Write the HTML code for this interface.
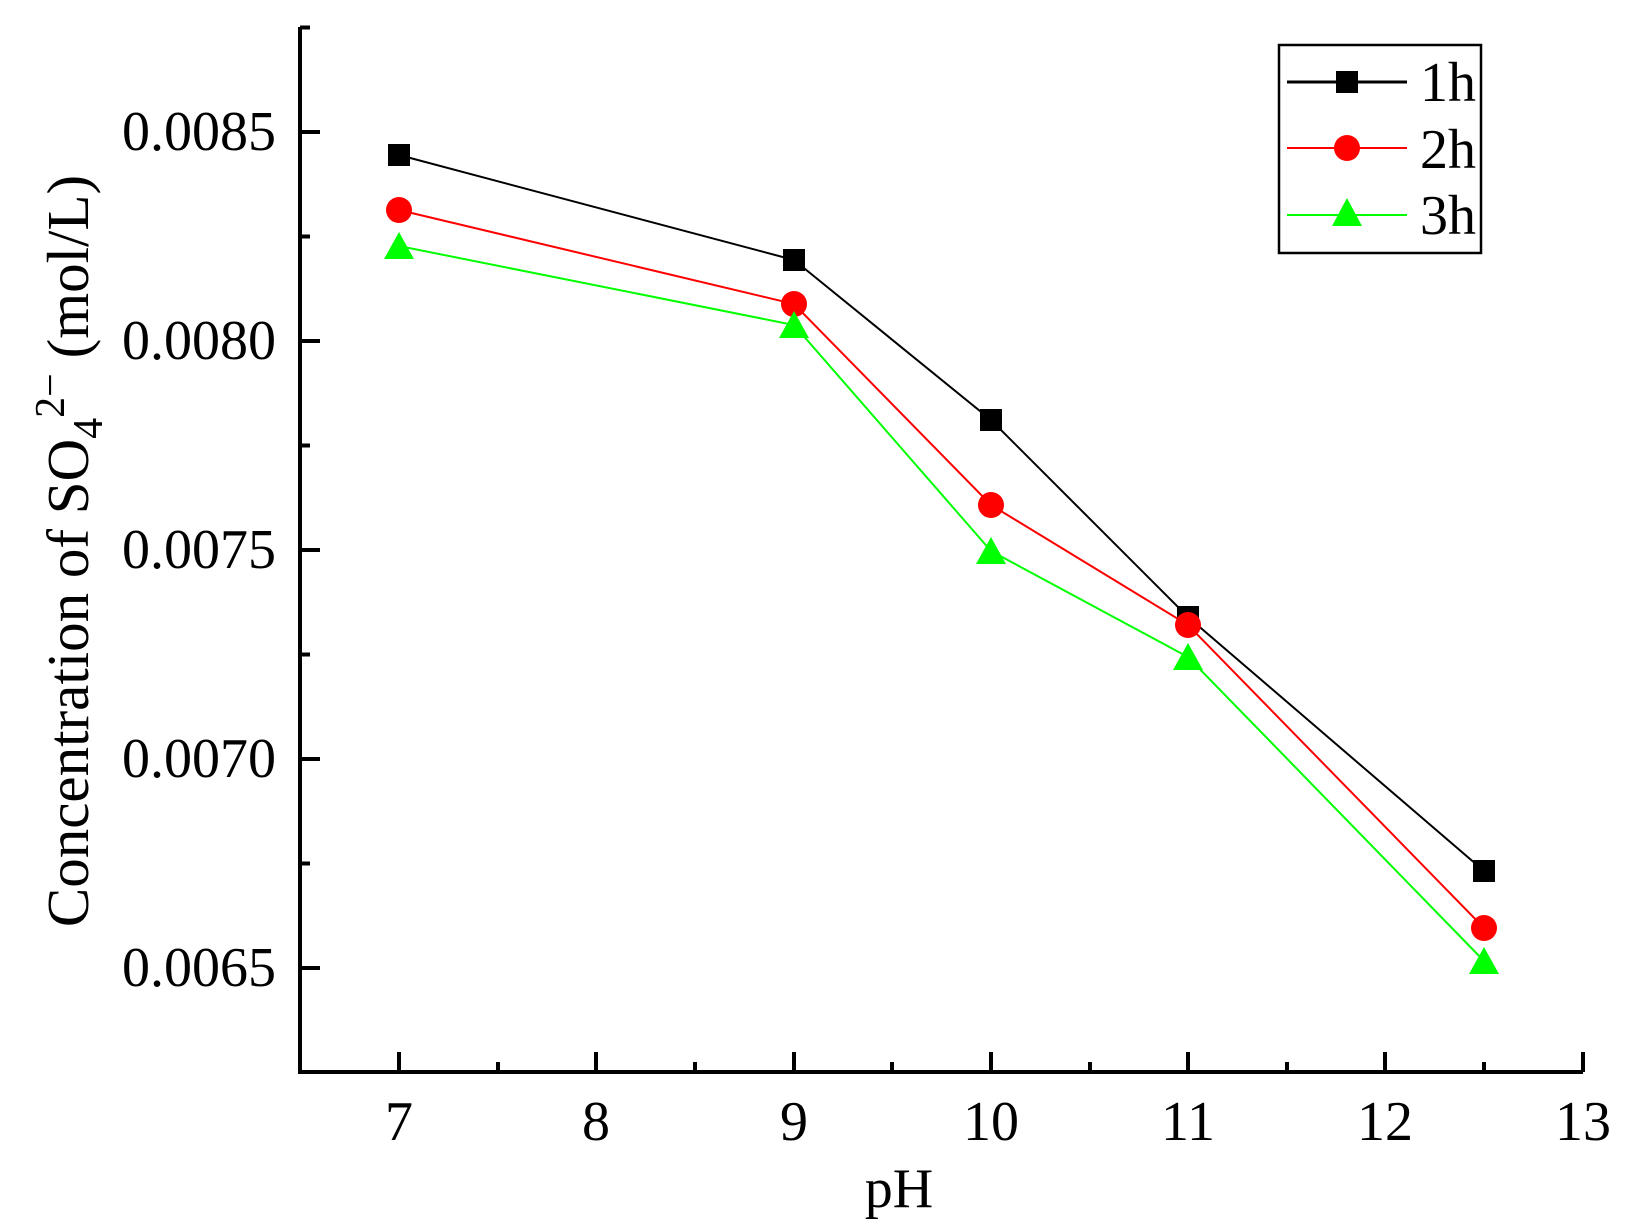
<!DOCTYPE html>
<html><head><style>body{margin:0;background:#fff}svg{display:block}</style></head><body>
<svg width="1630" height="1228" xmlns="http://www.w3.org/2000/svg" font-family="Liberation Serif, serif">
<rect width="1630" height="1228" fill="#fff"/>
<g stroke="#000" stroke-width="4" fill="none">
<path d="M300,27 V1072 H1583"/>
<path d="M300,132 h20 M300,341 h20 M300,550 h20 M300,759 h20 M300,968 h20"/>
<path d="M300,27.5 h10 M300,236.5 h10 M300,445.5 h10 M300,654.5 h10 M300,863.5 h10"/>
<path d="M399,1072 v-20 M596,1072 v-20 M794,1072 v-20 M991,1072 v-20 M1188,1072 v-20 M1385,1072 v-20 M1583,1072 v-20"/>
<path d="M498,1072 v-10 M695,1072 v-10 M892,1072 v-10 M1090,1072 v-10 M1287,1072 v-10 M1484,1072 v-10"/>
</g>
<g font-size="56" text-anchor="end" fill="#000">
<text x="276" y="150">0.0085</text>
<text x="276" y="359">0.0080</text>
<text x="276" y="568">0.0075</text>
<text x="276" y="777">0.0070</text>
<text x="276" y="986">0.0065</text>
</g>
<g font-size="56" text-anchor="middle" fill="#000">
<text x="399" y="1140">7</text>
<text x="596" y="1140">8</text>
<text x="794" y="1140">9</text>
<text x="991" y="1140">10</text>
<text x="1188" y="1140">11</text>
<text x="1385" y="1140">12</text>
<text x="1583" y="1140">13</text>
<text x="899" y="1207">pH</text>
</g>
<text transform="translate(88,551) rotate(-90)" font-size="59" text-anchor="middle" fill="#000">Concentration of SO<tspan font-size="42" dy="14">4</tspan><tspan font-size="42" dy="-38">2−</tspan><tspan dy="24"> (mol/L)</tspan></text>
<polyline points="399,155 794,260 991,420 1188,617 1484,871" fill="none" stroke="#000" stroke-width="2"/>
<polyline points="399,210 794,304 991,505 1188,625 1484,928" fill="none" stroke="#f00" stroke-width="2"/>
<polyline points="399,246 794,325 991,551 1188,657 1484,961" fill="none" stroke="#0f0" stroke-width="2"/>
<g fill="#000">
<rect x="388" y="144" width="22" height="22"/><rect x="783" y="249" width="22" height="22"/><rect x="980" y="409" width="22" height="22"/><rect x="1177" y="606" width="22" height="22"/><rect x="1473" y="860" width="22" height="22"/>
</g>
<g fill="#f00">
<circle cx="399" cy="210" r="13"/><circle cx="794" cy="304" r="13"/><circle cx="991" cy="505" r="13"/><circle cx="1188" cy="625" r="13"/><circle cx="1484" cy="928" r="13"/>
</g>
<g fill="#0f0">
<path d="M399,232 l15,27 h-30z"/><path d="M794,311 l15,27 h-30z"/><path d="M991,537 l15,27 h-30z"/><path d="M1188,643 l15,27 h-30z"/><path d="M1484,947 l15,27 h-30z"/>
</g>
<rect x="1279" y="45" width="202" height="208" fill="none" stroke="#000" stroke-width="2.5"/>
<line x1="1287" y1="82" x2="1407" y2="82" stroke="#000" stroke-width="3"/>
<rect x="1336" y="71" width="22" height="22" fill="#000"/>
<line x1="1287" y1="148" x2="1407" y2="148" stroke="#f00" stroke-width="2"/>
<circle cx="1347" cy="148" r="13" fill="#f00"/>
<line x1="1287" y1="215" x2="1407" y2="215" stroke="#0f0" stroke-width="2"/>
<path d="M1347,198 l15,28 h-30z" fill="#0f0"/>
<g font-size="56" fill="#000">
<text x="1420" y="101">1h</text>
<text x="1420" y="168">2h</text>
<text x="1420" y="234">3h</text>
</g>
</svg>
</body></html>
